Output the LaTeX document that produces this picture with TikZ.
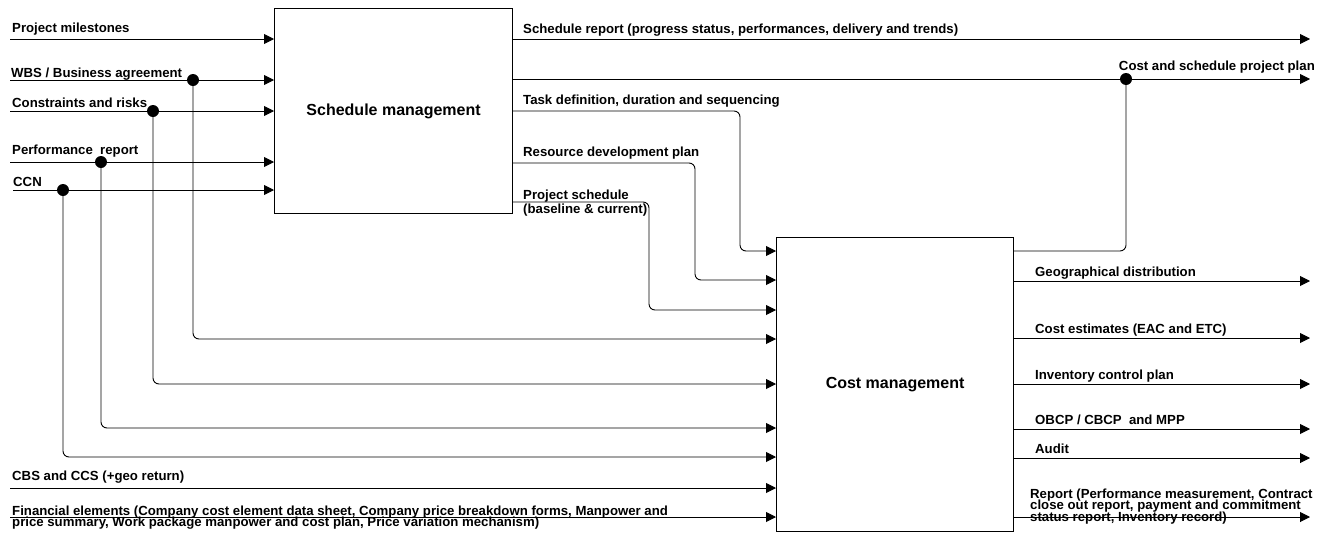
\documentclass[tikz,border=0pt]{standalone}
\usepackage{fontspec}
\setmainfont{Liberation Sans}
\usetikzlibrary{arrows.meta,calc}
\newcommand\lblfont{\bfseries\fontsize{13.2}{11.4}\selectfont\lineskiplimit -20pt\relax}
\begin{document}
\begin{tikzpicture}[x=1pt,y=-1pt,
  lbl/.style={font=\lblfont, inner sep=0pt, align=left},
  box/.style={draw, line width=1.2pt, inner sep=0pt, font=\bfseries\fontsize{16}{18}\selectfont},
  ln/.style={line width=0.9pt},
  arr/.style={ln, -{Triangle[length=10pt,width=10pt]}},
  rc/.style={rounded corners=6pt},
  dot/.style={circle, fill, minimum size=12pt, inner sep=0pt}]
\useasboundingbox (0,0) rectangle (1330,536);
% boxes
\node[box, minimum width=238pt, minimum height=205pt, anchor=north west] (sm) at (274,8) {Schedule management};
\node[box, minimum width=237pt, minimum height=294pt, anchor=north west] (cm) at (776,237) {Cost management};
% input start points
\coordinate (iPM) at (10,39);
\coordinate (iWBS) at (10,80);
\coordinate (iCR) at (10,111);
\coordinate (iPR) at (10,162);
\coordinate (iCCN) at (13,190);
\coordinate (iCBS) at (10,488);
\coordinate (iFin) at (10,517);
\draw[arr] (iPM) -- (iPM -| sm.west);
\draw[arr] (iWBS) -- (iWBS -| sm.west);
\draw[arr] (iCR) -- (iCR -| sm.west);
\draw[arr] (iPR) -- (iPR -| sm.west);
\draw[arr] (iCCN) -- (iCCN -| sm.west);
\draw[arr] (iCBS) -- (iCBS -| cm.west);
\draw[arr] (iFin) -- (iFin -| cm.west);
% junctions
\node[dot] (jWBS) at (193,80) {};
\node[dot] (jCR) at (153,111) {};
\node[dot] (jPR) at (101,162) {};
\node[dot] (jCCN) at (63,190) {};
\draw[arr,rc] (jWBS.center) |- (cm.west |- 0,339);
\draw[arr,rc] (jCR.center) |- (cm.west |- 0,384);
\draw[arr,rc] (jPR.center) |- (cm.west |- 0,428);
\draw[arr,rc] (jCCN.center) |- (cm.west |- 0,457);
% schedule outputs
\coordinate (oSR) at (1310,39);
\coordinate (oPlan) at (1310,79);
\draw[arr] (oSR -| sm.east) -- (oSR);
\draw[arr] (oPlan -| sm.east) -- (oPlan);
\node[dot] (jPlan) at (1126,79) {};
\draw[ln,rc] (cm.east |- 0,251) -| (jPlan.center);
\draw[arr,rc] (sm.east |- 0,111) -| (740,251) -- (cm.west |- 0,251);
\draw[arr,rc] (sm.east |- 0,163) -| (695,280) -- (cm.west |- 0,280);
\draw[arr,rc] (sm.east |- 0,202) -| (649,310) -- (cm.west |- 0,310);
% cost outputs
\coordinate (oGeo) at (1310,281);
\coordinate (oCE) at (1310,338);
\coordinate (oInv) at (1310,384);
\coordinate (oOB) at (1310,429);
\coordinate (oAud) at (1310,458);
\coordinate (oRep) at (1310,517);
\foreach \n in {oGeo,oCE,oInv,oOB,oAud,oRep} {\draw[arr] (\n -| cm.east) -- (\n);}
% labels
\node[lbl, anchor=base west] (tPM) at (12,32) {Project milestones};
\node[lbl, anchor=base west] (tWBS) at (11,77) {WBS / Business agreement};
\node[lbl, anchor=base west] (tCR) at (12,107.5) {Constraints and risks};
\node[lbl, anchor=base west] (tPR) at (12,154) {Performance\ \ report};
\node[lbl, anchor=base west] (tCCN) at (13,186) {CCN};
\node[lbl, anchor=base west] (tCBS) at (12,480) {CBS and CCS (+geo return)};
\node[lbl, anchor=base west] (tFin) at (12,526.5) {Financial elements (Company cost element data sheet, Company price breakdown forms, Manpower and\\price summary, Work package manpower and cost plan, Price variation mechanism)};
\node[lbl, anchor=base west] (tSR) at (523,33) {Schedule report (progress status, performances, delivery and trends)};
\node[lbl, anchor=base east] (tPlan) at (1315,70) {Cost and schedule project plan};
\node[lbl, anchor=base west] (tTask) at (523,104.5) {Task definition, duration and sequencing};
\node[lbl, anchor=base west] (tRes) at (523,156) {Resource development plan};
\node[lbl, anchor=base west] (tPS) at (523,213) {Project schedule\\[2.1pt](baseline \& current)};
\node[lbl, anchor=base west] (tGeo) at (1035,276) {Geographical distribution};
\node[lbl, anchor=base west] (tCE) at (1035,333) {Cost estimates (EAC and ETC)};
\node[lbl, anchor=base west] (tInv) at (1035,379) {Inventory control plan};
\node[lbl, anchor=base west] (tOB) at (1035,424) {OBCP / CBCP\ \ and MPP};
\node[lbl, anchor=base west] (tAud) at (1035,453) {Audit};
\node[lbl, anchor=base west] (tRep) at (1030,521) {Report (Performance measurement, Contract\\close out report, payment and commitment\\status report, Inventory record)};
\end{tikzpicture}
\end{document}
